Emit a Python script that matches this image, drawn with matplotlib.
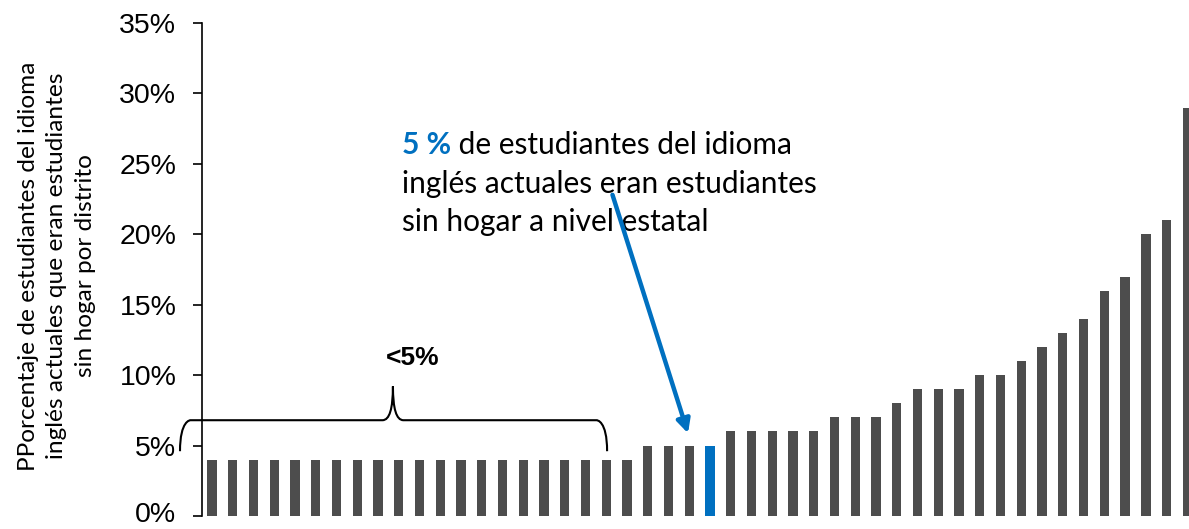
import numpy as np
import matplotlib
matplotlib.use("Agg")
import matplotlib.pyplot as plt
import matplotlib.transforms as mtransforms
from matplotlib.path import Path
from matplotlib.patches import PathPatch

# share of current English learners who were homeless, by district (%)
values = [4] * 21 + [5, 5, 5] + [5] + [6] * 5 + [7] * 3 + [8] + [9] * 3 + [10] * 2 + \
         [11, 12, 13, 14, 16, 17, 20, 21, 29]
state_idx = 24  # the statewide bar

bar_grey = "#4D4D4D"
blue = "#0070C0"

ylabel = "PPorcentaje de estudiantes del idioma\ninglés actuales que eran estudiantes\nsin hogar por distrito"
note_bold = "5 %"
note_lines = [" de estudiantes del idioma",
              "inglés actuales eran estudiantes",
              "sin hogar a nivel estatal"]
brace_label = "<5%"

fig = plt.figure(figsize=(11.89, 5.29), dpi=100)
ax = fig.add_axes([202 / 1189, 13 / 529, 1 - 202 / 1189, (516 - 23) / 529])

x = np.arange(len(values))
colors = [blue if i == state_idx else bar_grey for i in x]
ax.bar(x, values, width=0.45, color=colors)

ax.set_xlim(-0.48, 47.08)
ax.set_ylim(0, 35)
ax.set_yticks(np.arange(0, 36, 5))
ax.set_yticklabels([f"{v}%" for v in range(0, 36, 5)], family="Liberation Sans", fontsize=20.5)
ax.tick_params(axis="y", length=6.5, width=1.2, pad=12)
ax.set_xticks([])
for s in ["top", "right", "bottom"]:
    ax.spines[s].set_visible(False)
ax.spines["left"].set_linewidth(1.2)

# keep the 0% label inside the figure
lbl0 = ax.get_yticklabels()[0]
lbl0.set_transform(lbl0.get_transform() + mtransforms.ScaledTranslation(0, 3 / 72, fig.dpi_scale_trans))

fig.text(57 / 1189, 1 - 266 / 529, ylabel, rotation=90, ha="center", va="center",
         family="Lato", fontsize=17.6, linespacing=1.45)

# curly brace over the <5% districts
x0, x1, xm = -1.54, 19.04, 8.72
yl, yh, yt = 4.6, 6.8, 9.2
c = 0.5
verts = [(x0, yl), (x0, yh), (x0 + c, yh), (x0 + c, yh),
         (xm - c, yh), (xm, yh), (xm, yt),
         (xm, yh), (xm + c, yh),
         (x1 - c, yh), (x1 - c, yh), (x1, yh), (x1, yl)]
codes = [Path.MOVETO, Path.CURVE4, Path.CURVE4, Path.CURVE4,
         Path.LINETO, Path.CURVE3, Path.CURVE3,
         Path.CURVE3, Path.CURVE3,
         Path.LINETO, Path.CURVE4, Path.CURVE4, Path.CURVE4]
ax.add_patch(PathPatch(Path(verts, codes), fill=False, lw=1.5, ec="black", clip_on=False))
ax.text(9.69, 11.2, brace_label, ha="center", va="center", family="Liberation Sans",
        fontsize=19, fontweight="bold")

# annotation for the statewide value
tx = 9.16
baselines = [25.67, 22.91, 20.23]
t1 = ax.text(tx, baselines[0], note_bold, color=blue, fontweight="bold", family="Lato",
             fontsize=21.5, va="baseline", ha="left")
ax.annotate(note_lines[0], xy=(1, 0), xycoords=t1, va="bottom", ha="left",
            family="Lato", fontsize=21.5, color="black")
for line, yb in zip(note_lines[1:], baselines[1:]):
    ax.text(tx, yb, line, va="baseline", ha="left", family="Lato", fontsize=21.5)
ax.annotate("", xy=(22.94, 5.87), xytext=(19.3, 22.8),
            arrowprops=dict(arrowstyle="-|>,head_length=0.8,head_width=0.4",
                            color=blue, lw=3.2, shrinkA=0, shrinkB=0))

fig.savefig("out.png", dpi=100)
